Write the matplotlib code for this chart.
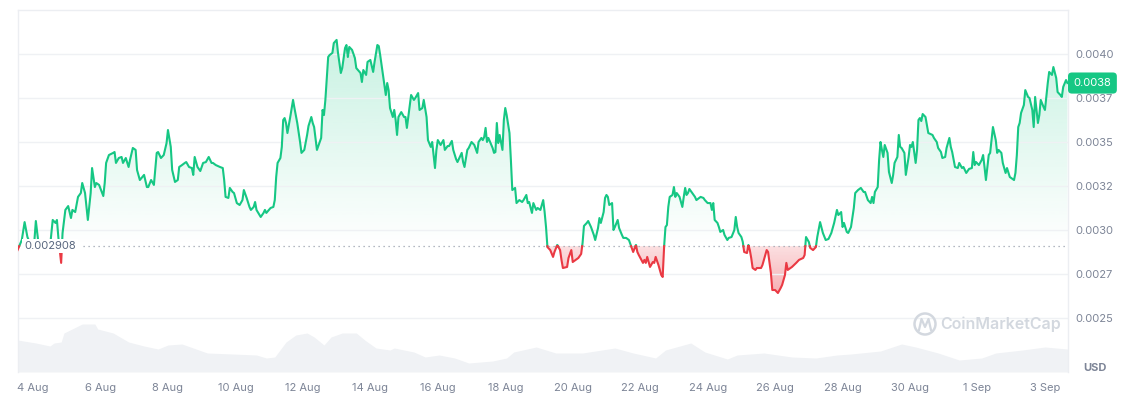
"""
Price chart, 1 month, CoinMarketCap style (line split at the open price,
green above / red below, with a faint volume area at the bottom).
"""

import numpy as np
import pandas as pd
import matplotlib
matplotlib.use('Agg')
import matplotlib.pyplot as plt
from matplotlib.path import Path
from matplotlib.patches import Ellipse
from matplotlib.lines import Line2D

plt.rcParams['font.family'] = ['Inter', 'DejaVu Sans']

GREEN = '#16c784'
RED = '#ea3943'
GRID = '#eff1f4'
TXT = '#7d8597'

START = pd.Timestamp('2024-08-04')   # hour 0
BASE_PRICE = 0.002908

# hours since 4 Aug 00:00 and price (in micro-USD)
hours = [
    -11, -8, -6, -4, -1, 1, 2, 4, 6, 9, 12, 14, 16, 17, 18, 20, 21, 23, 25, 27,
    28, 30, 32, 34, 35, 37, 39, 41, 42, 44, 45, 47, 50, 51, 52, 54, 57, 58, 59, 61,
    63, 64, 66, 68, 69, 71, 73, 74, 76, 79, 81, 82, 84, 86, 88, 89, 91, 93, 95, 96,
    98, 99, 101, 103, 104, 106, 108, 109, 111, 113, 114, 115, 117, 119, 121, 123, 125, 127, 128, 130,
    133, 135, 136, 137, 139, 140, 142, 143, 145, 147, 149, 150, 152, 154, 155, 157, 158, 159, 162, 164,
    165, 166, 169, 171, 172, 173, 174, 176, 177, 178, 179, 180, 181, 183, 185, 186, 188, 190, 191, 193,
    195, 196, 198, 199, 200, 202, 205, 206, 207, 208, 210, 211, 213, 214, 216, 217, 219, 220, 222, 223,
    224, 225, 227, 229, 230, 233, 234, 235, 237, 238, 240, 242, 243, 245, 246, 247, 249, 250, 251, 252,
    253, 254, 256, 257, 258, 259, 260, 262, 264, 265, 266, 267, 269, 271, 272, 274, 275, 277, 278, 280,
    281, 283, 284, 286, 287, 288, 290, 292, 293, 295, 296, 298, 299, 301, 302, 305, 306, 307, 309, 310,
    312, 314, 316, 317, 319, 320, 321, 322, 323, 324, 327, 328, 329, 330, 331, 332, 334, 335, 336, 337,
    339, 340, 341, 343, 344, 346, 348, 349, 351, 352, 353, 355, 356, 358, 359, 361, 363, 364, 365, 366,
    368, 370, 371, 373, 375, 376, 377, 380, 381, 383, 384, 388, 390, 391, 392, 394, 395, 397, 399, 400,
    402, 403, 404, 406, 407, 408, 409, 410, 412, 413, 414, 416, 417, 419, 420, 422, 424, 426, 427, 429,
    430, 431, 434, 435, 436, 437, 439, 441, 442, 443, 445, 447, 448, 449, 450, 451, 452, 453, 455, 456,
    457, 458, 460, 462, 463, 464, 465, 466, 467, 470, 471, 472, 475, 477, 478, 480, 482, 483, 484, 485,
    487, 488, 489, 491, 492, 494, 495, 497, 499, 500, 501, 502, 504, 505, 506, 508, 509, 510, 511, 512,
    514, 515, 518, 519, 520, 522, 523, 525, 526, 528, 530, 532, 533, 535, 536, 537, 540, 543, 545, 548,
    549, 550, 552, 553, 555, 557, 558, 560, 562, 564, 566, 568, 570, 572, 573, 575, 576, 577, 579, 580,
    582, 584, 585, 587, 589, 591, 592, 594, 596, 597, 598, 599, 601, 602, 603, 604, 605, 606, 608, 609,
    611, 612, 613, 615, 616, 617, 618, 620, 621, 623, 624, 625, 626, 628, 629, 630, 631, 632, 633, 635,
    636, 637, 640, 641, 643, 644, 646, 647, 649, 650, 652, 653, 654, 656, 658, 659, 661, 662, 664, 666,
    668, 669, 670, 671, 673, 675, 676, 677, 678, 680, 681, 682, 683, 685, 686, 687, 689, 690, 692, 693,
    695, 698, 699, 700, 701, 702, 703, 705, 706, 708, 709, 711, 712, 713, 715, 716, 717, 719, 720, 722,
    723, 725, 726, 728, 729, 731, 732, 733, 735, 736,
]
price_u = [
    2886, 2943, 3045, 2960, 2903, 2943, 3051, 2915, 2886, 2875, 2898, 3057, 3040, 3057, 2960, 2813, 2983, 3114, 3136, 3068,
    3114, 3102, 3188, 3210, 3267, 3210, 3057, 3210, 3352, 3244, 3267, 3256, 3193, 3267, 3381, 3426, 3438, 3443, 3381, 3409,
    3415, 3381, 3409, 3358, 3398, 3466, 3455, 3341, 3284, 3313, 3244, 3244, 3284, 3256, 3438, 3443, 3409, 3426, 3494, 3568,
    3472, 3341, 3273, 3284, 3358, 3369, 3381, 3386, 3358, 3352, 3313, 3415, 3358, 3335, 3381, 3386, 3415, 3381, 3381, 3369,
    3358, 3352, 3284, 3188, 3182, 3239, 3216, 3210, 3153, 3142, 3170, 3227, 3182, 3131, 3114, 3131, 3159, 3114, 3074, 3097,
    3114, 3097, 3125, 3131, 3170, 3301, 3381, 3409, 3472, 3625, 3636, 3608, 3551, 3642, 3739, 3693, 3608, 3500, 3438, 3455,
    3540, 3591, 3642, 3608, 3585, 3455, 3523, 3682, 3653, 3739, 3983, 3994, 4006, 4062, 4080, 4006, 3892, 3920, 4034, 4051,
    3983, 4040, 4023, 3977, 3920, 3892, 3841, 3909, 3881, 3955, 3966, 3898, 3955, 4051, 4045, 3994, 3881, 3824, 3767, 3835,
    3795, 3693, 3642, 3682, 3625, 3540, 3642, 3670, 3642, 3642, 3580, 3642, 3767, 3739, 3750, 3778, 3682, 3693, 3739, 3642,
    3511, 3472, 3500, 3352, 3455, 3511, 3483, 3511, 3455, 3477, 3477, 3506, 3455, 3403, 3386, 3438, 3386, 3358, 3455, 3466,
    3500, 3483, 3438, 3500, 3523, 3511, 3528, 3580, 3500, 3523, 3466, 3438, 3443, 3608, 3494, 3540, 3455, 3625, 3693, 3653,
    3551, 3398, 3227, 3239, 3153, 3170, 3159, 3170, 3199, 3153, 3159, 3097, 3153, 3114, 3125, 3114, 3170, 3102, 3017, 2903,
    2886, 2847, 2875, 2915, 2886, 2830, 2784, 2790, 2841, 2886, 2818, 2841, 2864, 2926, 3023, 3040, 3051, 3017, 2972, 2943,
    3011, 3068, 3040, 3102, 3182, 3199, 3188, 3142, 3153, 3000, 3017, 3057, 3011, 2972, 2955, 2955, 2943, 2898, 2875, 2915,
    2875, 2858, 2813, 2830, 2813, 2847, 2790, 2818, 2813, 2847, 2801, 2744, 2733, 2903, 3017, 3028, 3131, 3188, 3199, 3244,
    3188, 3210, 3188, 3131, 3188, 3239, 3199, 3210, 3233, 3199, 3188, 3170, 3188, 3182, 3170, 3153, 3153, 3114, 3153, 3057,
    3040, 3017, 2989, 3000, 2972, 2943, 2955, 2960, 3000, 3074, 3017, 2983, 2960, 2932, 2875, 2869, 2915, 2886, 2841, 2784,
    2773, 2784, 2784, 2801, 2830, 2886, 2875, 2756, 2659, 2659, 2642, 2671, 2688, 2744, 2813, 2773, 2790, 2813, 2830, 2841,
    2858, 2960, 2932, 2898, 2886, 2903, 2960, 3045, 2983, 2943, 2949, 2983, 3040, 3114, 3085, 3102, 3017, 3040, 2989, 2983,
    3017, 3125, 3210, 3227, 3239, 3216, 3216, 3170, 3153, 3188, 3153, 3216, 3244, 3398, 3500, 3455, 3415, 3483, 3438, 3330,
    3267, 3313, 3381, 3415, 3540, 3472, 3466, 3438, 3313, 3415, 3483, 3472, 3500, 3381, 3455, 3625, 3636, 3619, 3659, 3642,
    3597, 3551, 3540, 3523, 3500, 3466, 3443, 3409, 3415, 3466, 3523, 3472, 3443, 3358, 3352, 3381, 3352, 3358, 3324, 3347,
    3352, 3443, 3369, 3386, 3369, 3398, 3426, 3358, 3284, 3426, 3438, 3511, 3585, 3511, 3438, 3455, 3438, 3381, 3324, 3352,
    3301, 3284, 3324, 3426, 3585, 3608, 3665, 3710, 3795, 3756, 3750, 3682, 3585, 3756, 3608, 3653, 3739, 3699, 3682, 3835,
    3898, 3881, 3926, 3864, 3784, 3767, 3756, 3813, 3852, 3835,
]

# 24h volume (million USD, rough) for the faint area at the bottom
vol_hours = [
    -11, 2, 12, 15, 20, 22, 35, 44, 46, 57, 68, 79, 89, 96, 106, 116, 124, 142, 159, 166,
    172, 180, 187, 195, 200, 207, 212, 220, 230, 236, 244, 254, 257, 271, 279, 289, 300, 310, 327, 337,
    342, 358, 372, 391, 414, 427, 443, 450, 468, 478, 494, 501, 520, 540, 557, 572, 582, 603, 618, 628,
    644, 659, 675, 685, 704, 720, 736,
]
vol = [
    3.2, 2.9, 2.6, 2.9, 3.0, 3.9, 4.8, 4.8, 4.3, 3.9, 3.0, 2.6, 2.3, 2.7, 2.8, 2.3, 1.9, 1.8, 1.7, 1.4,
    1.5, 3.0, 3.7, 3.9, 3.5, 2.7, 3.5, 3.9, 3.9, 3.2, 2.4, 2.2, 2.4, 2.0, 1.5, 1.7, 1.4, 0.9, 1.1, 1.4,
    2.0, 2.5, 1.9, 1.9, 2.4, 1.9, 1.4, 2.2, 2.9, 2.0, 1.3, 1.7, 1.9, 1.5, 1.4, 1.7, 1.8, 2.1, 2.8, 2.5,
    1.9, 1.2, 1.4, 1.9, 2.2, 2.5, 2.3,
]

y_ticks = [0.0025, 0.00275, 0.0030, 0.00325, 0.0035, 0.00375, 0.0040]
y_labels = ['0.0025', '0.0027', '0.0030', '0.0032', '0.0035', '0.0037', '0.0040']
x_ticks = list(range(0, 721, 48))

t = np.array(hours, dtype=float)
p = np.array(price_u) * 1e-6
base = BASE_PRICE


def split_at_base(t, p, base):
    """insert a point on the base line wherever the series crosses it"""
    tt, pp = [t[0]], [p[0]]
    for i in range(1, len(t)):
        a, b = p[i - 1] - base, p[i] - base
        if a * b < 0:
            tc = t[i - 1] + (base - p[i - 1]) * (t[i] - t[i - 1]) / (p[i] - p[i - 1])
            tt.append(tc)
            pp.append(base)
        tt.append(t[i])
        pp.append(p[i])
    return np.array(tt), np.array(pp)


def gradient_fill(ax, tt, pp, base, where, rgb, y0, y1, a0, a1):
    coll = ax.fill_between(tt, pp, base, where=where, interpolate=True,
                           facecolor='none', edgecolor='none')
    alpha = np.linspace(a0, a1, 256)
    img = np.zeros((256, 1, 4))
    img[:, 0, :3] = rgb
    img[:, 0, 3] = alpha
    im = ax.imshow(img, extent=[tt[0], tt[-1], y0, y1], origin='lower',
                   aspect='auto', zorder=1, interpolation='bicubic')
    paths = coll.get_paths()
    if paths:
        im.set_clip_path(Path.make_compound_path(*paths), transform=ax.transData)
    return im


W, H = 1129, 398
fig = plt.figure(figsize=(W / 100, H / 100), dpi=100)
L, R, T, B = 18, 1068, 10, 372
ax = fig.add_axes([L / W, 1 - B / H, (R - L) / W, (B - T) / H])
ax2 = ax.twinx()

# volume, behind everything
ax2.fill_between(vol_hours, vol, 0, color='#f0f2f5', lw=0, zorder=0)
ax2.set_ylim(0, 36.2)
ax2.set_yticks([])
for s in ax2.spines.values():
    s.set_visible(False)
ax.set_zorder(ax2.get_zorder() + 1)
ax.patch.set_visible(False)

tt, pp = split_at_base(t, p, base)
green_rgb = (22 / 255, 199 / 255, 132 / 255)
red_rgb = (234 / 255, 57 / 255, 67 / 255)
gradient_fill(ax, tt, pp, base, pp >= base, green_rgb, base, 0.0041, 0.0, 0.24)
gradient_fill(ax, tt, pp, base, pp <= base, red_rgb, 0.00262, base, 0.42, 0.16)

up = np.where(pp >= base, pp, np.nan)
dn = np.where(pp <= base, pp, np.nan)
ax.plot(tt, up, color=GREEN, lw=1.5, zorder=3, solid_joinstyle='round')
ax.plot(tt, dn, color=RED, lw=1.5, zorder=3, solid_joinstyle='round')

ax.axhline(base, xmin=0.062, xmax=1, color='#9aa1ae', lw=0.9,
           ls=(0, (1, 3)), zorder=2)
ax.text(0.006, base, f'{base:.6f}', transform=ax.get_yaxis_transform(),
        ha='left', va='center', fontsize=8, color='#58667e', zorder=6,
        bbox=dict(boxstyle='square,pad=0.2', fc='white', ec='none'))

ax.set_xlim(-10.7, 736.4)
ax.set_ylim(0.0021931, 0.00425)

ax.set_yticks(y_ticks)
ax.set_yticklabels(y_labels)
ax.yaxis.tick_right()
ax.grid(axis='y', color=GRID, lw=1, zorder=0)
ax.set_xticks(x_ticks)
ax.set_xticklabels([f'{d.day} {d:%b}' for d in START + pd.to_timedelta(x_ticks, unit='h')])
ax.tick_params(axis='y', length=0, pad=5, labelsize=8, labelcolor=TXT)
ax.tick_params(axis='x', length=0, pad=8, labelsize=8, labelcolor=TXT)

for side in ['left', 'top', 'right']:
    ax.spines[side].set_color('#eceef2')
    ax.spines[side].set_linewidth(1)
ax.spines['bottom'].set_visible(False)

# last price badge
ax.annotate(f'{p[-1]:.4f}', xy=(1, p[-1]), xycoords=('axes fraction', 'data'),
            xytext=(4, 0), textcoords='offset points', ha='left', va='center',
            color='white', fontsize=8, zorder=10, annotation_clip=False,
            bbox=dict(boxstyle='round,pad=0.5,rounding_size=0.35', fc=GREEN, ec='none'))

fig.text(1095 / W, 1 - 368 / H, 'USD', ha='center', va='center',
         fontsize=8, fontweight='bold', color='#7d8597')

# watermark
wm = '#d3d8df'
fig.patches.append(Ellipse((925 / W, 1 - 324 / H), 21 / W, 21 / H,
                           transform=fig.transFigure, fill=False, ec=wm, lw=1.8, zorder=5))
fig.lines.append(Line2D([919 / W, 921.5 / W, 925 / W, 928.5 / W, 931 / W],
                        [1 - 330 / H, 1 - 319 / H, 1 - 327 / H, 1 - 319 / H, 1 - 330 / H],
                        transform=fig.transFigure, color=wm, lw=1.6, zorder=5))
fig.text(940 / W, 1 - 324 / H, 'CoinMarketCap', ha='left', va='center',
         fontsize=11.5, fontweight='semibold', color=wm)

fig.savefig('out.png', dpi=100)
plt.close(fig)
